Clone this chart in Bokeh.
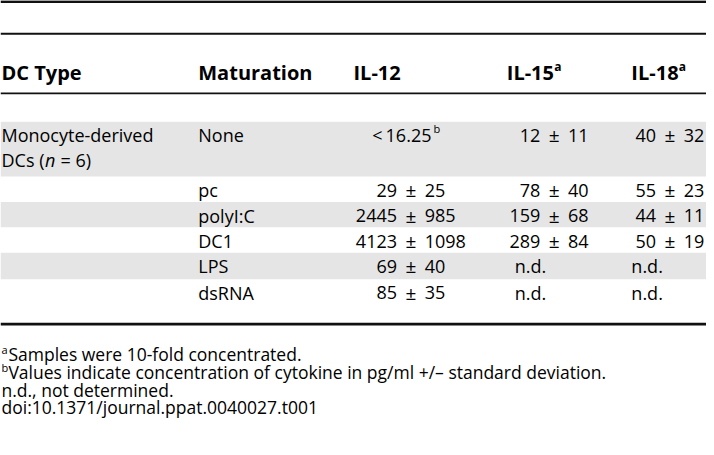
from bokeh.plotting import figure
from bokeh.models import Range1d
from bokeh.core.properties import value
from bokeh.embed import file_html
from bokeh.resources import INLINE

# ---------------- data ----------------
headers = ["DC Type", "Maturation", "IL-12", "IL-15", "IL-18"]
header_sup = ["", "", "", "a", "a"]
dc_type_line1 = "Monocyte-derived"
dc_type_line2 = ["DCs (", "n", "\u00a0=\u00a06)"]
maturation = ["None", "pc", "polyI:C", "DC1", "LPS", "dsRNA"]
il12_mean = ["<16.25", "29", "2445", "4123", "69", "85"]
il12_sd = ["", "25", "985", "1098", "40", "35"]
il12_sup = ["b", "", "", "", "", ""]
il15_mean = ["12", "78", "159", "289", "n.d.", "n.d."]
il15_sd = ["11", "40", "68", "84", "", ""]
il18_mean = ["40", "55", "44", "50", "n.d.", "n.d."]
il18_sd = ["32", "23", "11", "19", "", ""]
footnote_marks = ["a", "b", "", ""]
footnotes = [
    "Samples were 10-fold concentrated.",
    "Values indicate concentration of cytokine in pg/ml +/\u2013 standard deviation.",
    "n.d., not determined.",
    "doi:10.1371/journal.ppat.0040027.t001",
]

# ---------------- layout (reference pixel space) ----------------
FONT = value("Open Sans")
BODY = "18px"
HEAD = "20px"
NOTE = "17.5px"
SUP = "11px"

p = figure(width=706, height=439, x_range=Range1d(0, 714), y_range=Range1d(449, 0),
           output_backend="svg", toolbar_location=None, min_border=0)
p.axis.visible = False
p.grid.visible = False
p.outline_line_color = None
p.background_fill_color = "white"
p.border_fill_color = "white"

col_x = [1, 200, 357, 512, 638]
header_y = 74
body_top = 124
row_h = [56, 26, 26, 26, 27, 26]
row_tops = [body_top]
for h in row_h[:-1]:
    row_tops.append(row_tops[-1] + h)
row_y = [t + 14 for t in row_tops]

# gray bands
gray = [i for i in range(len(maturation)) if i % 2 == 0]
p.quad(left=0, right=714, top=[row_tops[i] for i in gray],
       bottom=[row_tops[i] + row_h[i] for i in gray],
       fill_color="#e5e5e5", line_color=None)

# rules
p.segment(x0=0, x1=714, y0=1.2, y1=1.2, line_color="#111111", line_width=2.6)
p.segment(x0=0, x1=714, y0=34, y1=34, line_color="#111111", line_width=1.8)
p.segment(x0=0, x1=714, y0=95, y1=95, line_color="#111111", line_width=1.6)
p.segment(x0=0, x1=714, y0=331, y1=331, line_color="#111111", line_width=2.6)

def txt(x, y, t, align="left", size=BODY, style="normal", base="middle"):
    p.text(x=x, y=y, text=t, text_align=align, text_baseline=base,
           text_font=FONT, text_font_size=size, text_font_style=style,
           text_color="#000000")

# headers
txt(col_x, [header_y] * 5, headers, size=HEAD, style="bold")
sup_idx = [i for i, s in enumerate(header_sup) if s]
txt([col_x[i] + 48 for i in sup_idx], [header_y - 7] * len(sup_idx),
    [header_sup[i] for i in sup_idx], size="12px", style="bold")

# DC type column
txt([1], [row_y[0]], [dc_type_line1])
txt([1], [row_y[0] + 25], [dc_type_line2[0]])
txt([45], [row_y[0] + 25], [dc_type_line2[1]], style="italic")
txt([56], [row_y[0] + 25], [dc_type_line2[2]])

# maturation column
txt([col_x[1]] * len(maturation), row_y, maturation)

# value columns, aligned on the +/- sign
pm_x = [415, 560, 677]
nd_x = [376, 520, 638]
gap = 14
for ci, (means, sds) in enumerate([(il12_mean, il12_sd), (il15_mean, il15_sd), (il18_mean, il18_sd)]):
    mx, my, mt = [], [], []
    lx, ly, lt = [], [], []
    for ri, (m, s) in enumerate(zip(means, sds)):
        if s:
            mx.append(pm_x[ci] - gap); my.append(row_y[ri]); mt.append(m)
            lx.append(pm_x[ci] + gap); ly.append(row_y[ri]); lt.append(s)
        elif m.startswith("<"):
            lx.append(nd_x[ci]); ly.append(row_y[ri]); lt.append(m.replace("<", "<\u2009"))
        else:
            lx.append(nd_x[ci]); ly.append(row_y[ri]); lt.append(m)
    pmy = [row_y[ri] for ri, s in enumerate(sds) if s]
    txt(mx, my, mt, align="right")
    txt(lx, ly, lt, align="left")
    txt([pm_x[ci]] * len(pmy), pmy, ["\u00b1"] * len(pmy), align="center", size="19px")

# superscript on IL-12 first value
sup_rows = [i for i, s in enumerate(il12_sup) if s]
txt([nd_x[0] + 62] * len(sup_rows), [row_y[i] - 7 for i in sup_rows],
    [il12_sup[i] for i in sup_rows], size=SUP)

# footnotes
note_y = [362, 380, 398, 416]
mark_idx = [i for i, m in enumerate(footnote_marks) if m]
txt([1] * len(mark_idx), [note_y[i] - 5 for i in mark_idx],
    [footnote_marks[i] for i in mark_idx], size=SUP)
txt([8 if m else 1 for m in footnote_marks], note_y, footnotes, size=NOTE)

open("out.html", "w").write(file_html(p, INLINE))
